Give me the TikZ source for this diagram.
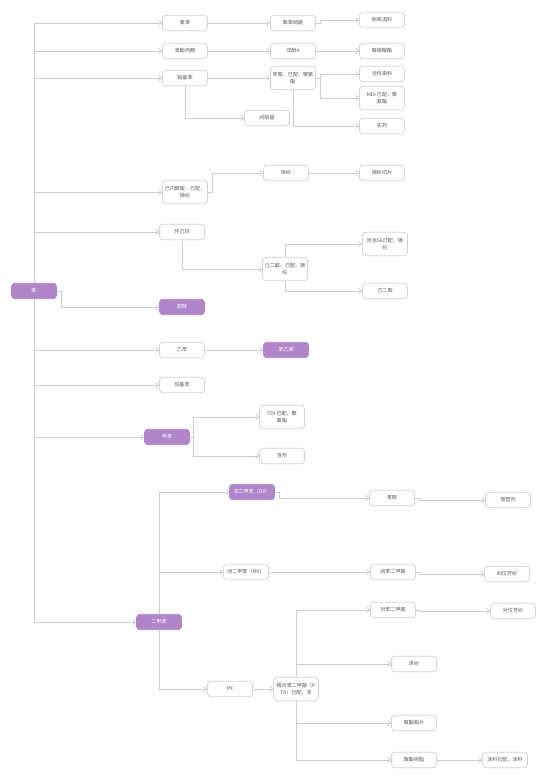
\documentclass[tikz,border=0pt]{standalone}
\usepackage{fontspec}
\newfontfamily\cjk{Noto Sans CJK SC}
\usetikzlibrary{arrows.meta}
\definecolor{pur}{HTML}{B185CA}
\definecolor{bd}{HTML}{D3D3D3}
\definecolor{ln}{HTML}{CDCDCD}
\definecolor{tx}{HTML}{5A5A5A}
\begin{document}
\begin{tikzpicture}[x=0.75pt,y=-0.75pt,
 box/.style={draw=bd,line width=0.6pt,fill=white,rounded corners=2.5pt,minimum width=33.75pt,minimum height=11.5pt,inner sep=1pt,align=center,font=\cjk\fontsize{3.8}{5}\selectfont,text=tx},
 tall/.style={minimum height=17.5pt},
 pbox/.style={box,fill=pur,draw=pur,text=white},
 conn/.style={draw=ln,line width=0.55pt,-{Straight Barb[length=2.2pt,width=4.2pt]}}]
\useasboundingbox[fill=white] (0,0) rectangle (548,780);

\node[pbox] (root) at (34,291) {苯};

\node[box] (n1) at (185,23) {氯苯};
\node[box] (n1a) at (293,23) {聚苯硫醚};
\node[box] (n1b) at (382,20) {耐高温料};
\node[box] (n2) at (185,51) {苯酚丙酮};
\node[box] (n2a) at (293,51) {双酚A};
\node[box] (n2b) at (382,51) {聚碳酸酯};
\node[box] (n3) at (185,78) {硝基苯};
\node[box,tall] (n3a) at (293,78) {苯胺，已配，聚氨\\酯};
\node[box] (n3b) at (382,74) {活性染料};
\node[box,tall] (n3c) at (382,98) {MDI 已配，聚\\氨酯};
\node[box] (n3d) at (382,126) {农药};
\node[box] (n3e) at (267,118) {间硝基};
\node[box,tall] (n4) at (185,192) {己内酰胺，已配，\\锦纶};
\node[box] (n4a) at (286,173) {锦纶};
\node[box] (n4b) at (382,173) {锦纶切片};
\node[box] (n5) at (182,232) {环己烷};
\node[box,tall] (n5a) at (285,269) {己二酸，已配，锦\\纶};
\node[box,tall] (n5b) at (385,244) {尼龙66已配，锦\\纶};
\node[box] (n5c) at (385,291) {己二胺};
\node[pbox] (n6) at (182,307) {顺酐};
\node[box] (n7) at (182,350) {乙苯};
\node[pbox] (n7a) at (286,350) {苯乙烯};
\node[box] (n8) at (182,385) {烷基苯};
\node[pbox] (n9) at (167,437) {甲苯};
\node[box,tall] (n9a) at (282,417) {TDI 已配，聚\\氨酯};
\node[box] (n9b) at (282,456) {溶剂};
\node[pbox] (n10) at (159,622) {二甲苯};
\node[pbox] (ox) at (252,492) {邻二甲苯（OX）};
\node[box] (ox1) at (392,498) {苯酐};
\node[box] (ox2) at (508,500) {增塑剂};
\node[box] (mx) at (246,572) {间二甲苯（MX）};
\node[box] (mx1) at (393,572) {间苯二甲酸};
\node[box] (mx2) at (507,574) {间位芳纶};
\node[box] (px) at (230,689) {PX};
\node[box,tall] (pta) at (296,689) {精对苯二甲酸（P\\TA）已配，涤};
\node[box] (p1) at (393,610) {对苯二甲酸};
\node[box] (p1a) at (513,611) {对位芳纶};
\node[box] (p2) at (414,664) {涤纶};
\node[box] (p3) at (414,723) {聚酯瓶片};
\node[box] (p4) at (414,760) {聚酯树脂};
\node[box] (p4a) at (505,760) {涂料已配，涂料};

\foreach \c in {n1,n2,n3,n4,n5} \draw[conn] (root.north) |- (\c.west);
\foreach \c in {n7,n8,n9,n10} \draw[conn] (root.south) |- (\c.west);
\draw[conn] (root.east) -- ++(4,0) |- (n6.west);

\draw[conn] (n1.east) -- (n1a.west);
\draw[conn] (n1a.east) -- ++(4,0) |- (n1b.west);
\draw[conn] (n2.east) -- (n2a.west);
\draw[conn] (n2a.east) -- (n2b.west);
\draw[conn] (n3.east) -- (n3a.west);
\draw[conn] (n3a.east) -- ++(4,0) |- (n3b.west);
\draw[conn] (n3a.east) -- ++(4,0) |- (n3c.west);
\draw[conn] (n3a.south) |- (n3d.west);
\draw[conn] (n3.south) |- (n3e.west);
\draw[conn] (n4.east) -- ++(4,0) |- (n4a.west);
\draw[conn] (n4a.east) -- (n4b.west);
\draw[conn] (n5.south) |- (n5a.west);
\draw[conn] (n5a.north) |- (n5b.west);
\draw[conn] (n5a.south) |- (n5c.west);
\draw[conn] (n7.east) -- (n7a.west);
\draw[conn] (n9.east) -- ++(3,0) |- (n9a.west);
\draw[conn] (n9.east) -- ++(3,0) |- (n9b.west);
\draw[conn] (n10.north) |- (ox.west);
\draw[conn] (n10.north) |- (mx.west);
\draw[conn] (n10.south) |- (px.west);
\draw[conn] (ox.east) -- ++(4,0) |- (ox1.west);
\draw[conn] (ox1.east) -- ++(4,0) |- (ox2.west);
\draw[conn] (mx.east) -- (mx1.west);
\draw[conn] (mx1.east) -- ++(4,0) |- (mx2.west);
\draw[conn] (px.east) -- (pta.west);
\draw[conn] (pta.north) |- (p1.west);
\draw[conn] (pta.north) |- (p2.west);
\draw[conn] (pta.south) |- (p3.west);
\draw[conn] (pta.south) |- (p4.west);
\draw[conn] (p1.east) -- ++(4,0) |- (p1a.west);
\draw[conn] (p4.east) -- (p4a.west);
\end{tikzpicture}
\end{document}
